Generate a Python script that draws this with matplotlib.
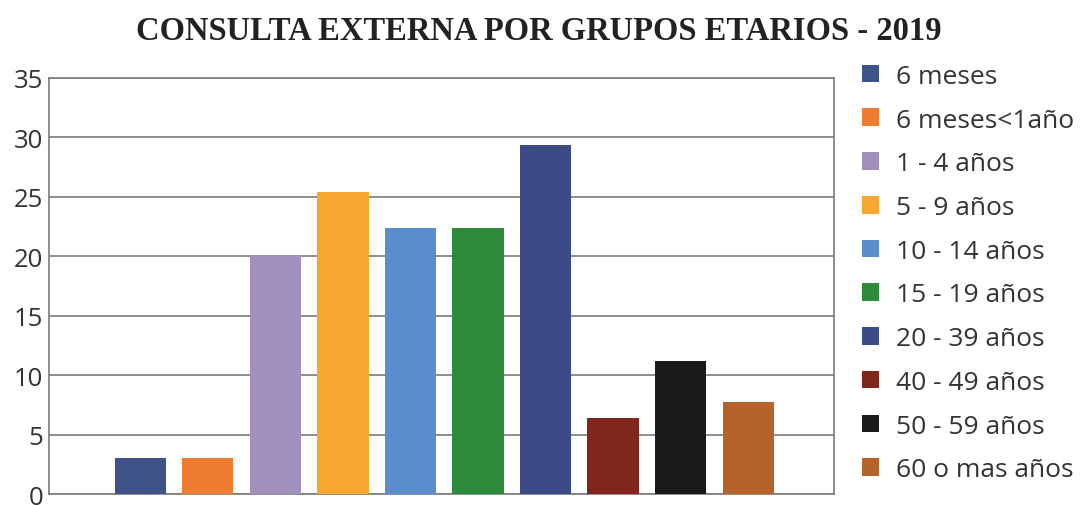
import matplotlib.pyplot as plt
from matplotlib.patches import Patch

# data
grupos = [
    "6 meses",
    "6 meses<1año",
    "1 - 4 años",
    "5 - 9 años",
    "10 - 14 años",
    "15 - 19 años",
    "20 - 39 años",
    "40 - 49 años",
    "50 - 59 años",
    "60 o mas años",
]
valores = [3, 3, 20, 25.4, 22.4, 22.4, 29.4, 6.4, 11.2, 7.7]
colores = [
    "#3F5189", "#ED7D31", "#A190BE", "#F6A731", "#5A8DCB",
    "#2F8A3B", "#3C4A85", "#80261F", "#1B1919", "#B5622B",
]
yticks = [0, 5, 10, 15, 20, 25, 30, 35]

plt.rcParams["font.family"] = ["Open Sans", "DejaVu Sans"]

fig = plt.figure(figsize=(10.86, 5.06), dpi=100)
ax = fig.add_axes([0.0451, 0.0217, 0.7229, 0.8222])

x = list(range(len(valores)))
ax.bar(x, valores, width=0.76, color=colores, zorder=3)

ax.set_xlim(-1.35, len(valores) - 1 + 1.27)
ax.set_ylim(0, 35)
ax.set_yticks(yticks)
ax.set_xticks([])
ax.tick_params(axis="y", length=0, labelsize=18.5, colors="#333333", pad=4)
ax.yaxis.grid(True, color="#7a7a7a", linewidth=1.2, zorder=0)
for s in ax.spines.values():
    s.set_color("#7a7a7a")
    s.set_linewidth(1.2)

fig.text(
    0.496, 0.937, "CONSULTA EXTERNA POR GRUPOS ETARIOS - 2019",
    ha="center", va="center", family="Liberation Serif",
    weight="bold", fontsize=23.5, color="#222222",
)

handles = [Patch(facecolor=c, edgecolor="none") for c in colores]
fig.legend(
    handles, grupos,
    loc="upper left", bbox_to_anchor=(0.7937, 0.872),
    borderpad=0, borderaxespad=0,
    frameon=False, fontsize=19, handlelength=0.65, handleheight=0.65,
    handletextpad=0.65, labelspacing=0.71, labelcolor="#333333",
)

fig.savefig("out.png", dpi=100)
